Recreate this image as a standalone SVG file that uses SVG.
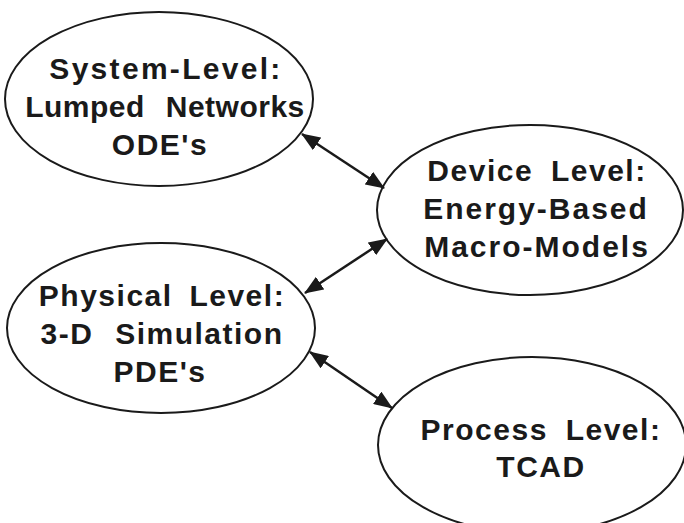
<svg xmlns="http://www.w3.org/2000/svg" width="684" height="523" viewBox="0 0 684 523">
<style>
.node ellipse{fill:#fff;stroke:#1a1a1a;stroke-width:2}
.node text{font-family:"Liberation Sans",Arial,sans-serif;font-weight:bold;font-size:30px;fill:#1a1a1a;text-anchor:middle;letter-spacing:1.5px;word-spacing:12px}
.conn line{stroke:#1a1a1a;stroke-width:2.5}
</style>
<defs>
<marker id="ah" viewBox="0 0 19 15" refX="18" refY="7.5" markerWidth="19" markerHeight="15" markerUnits="userSpaceOnUse" orient="auto-start-reverse">
<path d="M0,0 L19,7.5 L0,15 z" fill="#1a1a1a"/>
</marker>
</defs>
<rect width="684" height="523" fill="#fff"/>
<g id="system-level" class="node">
<ellipse cx="159" cy="99" rx="154" ry="87"/>
<text x="166" y="79" style="letter-spacing:2.3px">System-Level:</text>
<text x="165" y="117" style="letter-spacing:0.5px">Lumped Networks</text>
<text x="160" y="155">ODE's</text>
</g>
<g id="device-level" class="node">
<ellipse cx="530" cy="210" rx="153" ry="85"/>
<text x="537" y="181" style="word-spacing:8px">Device Level:</text>
<text x="536" y="219" style="letter-spacing:2px">Energy-Based</text>
<text x="537" y="257" style="letter-spacing:2px">Macro-Models</text>
</g>
<g id="physical-level" class="node">
<ellipse cx="161" cy="328" rx="154" ry="85"/>
<text x="162" y="306" style="word-spacing:7px">Physical Level:</text>
<text x="162" y="344">3-D Simulation</text>
<text x="160" y="382">PDE's</text>
</g>
<g id="process-level" class="node">
<ellipse cx="532" cy="445" rx="154" ry="88"/>
<text x="541" y="440" style="word-spacing:8px">Process Level:</text>
<text x="541" y="477">TCAD</text>
</g>
<g id="connectors" class="conn">
<line x1="302" y1="134" x2="384" y2="188" marker-start="url(#ah)" marker-end="url(#ah)"/>
<line x1="387" y1="239" x2="305" y2="293" marker-start="url(#ah)" marker-end="url(#ah)"/>
<line x1="310" y1="352" x2="392" y2="408" marker-start="url(#ah)" marker-end="url(#ah)"/>
</g>
</svg>
